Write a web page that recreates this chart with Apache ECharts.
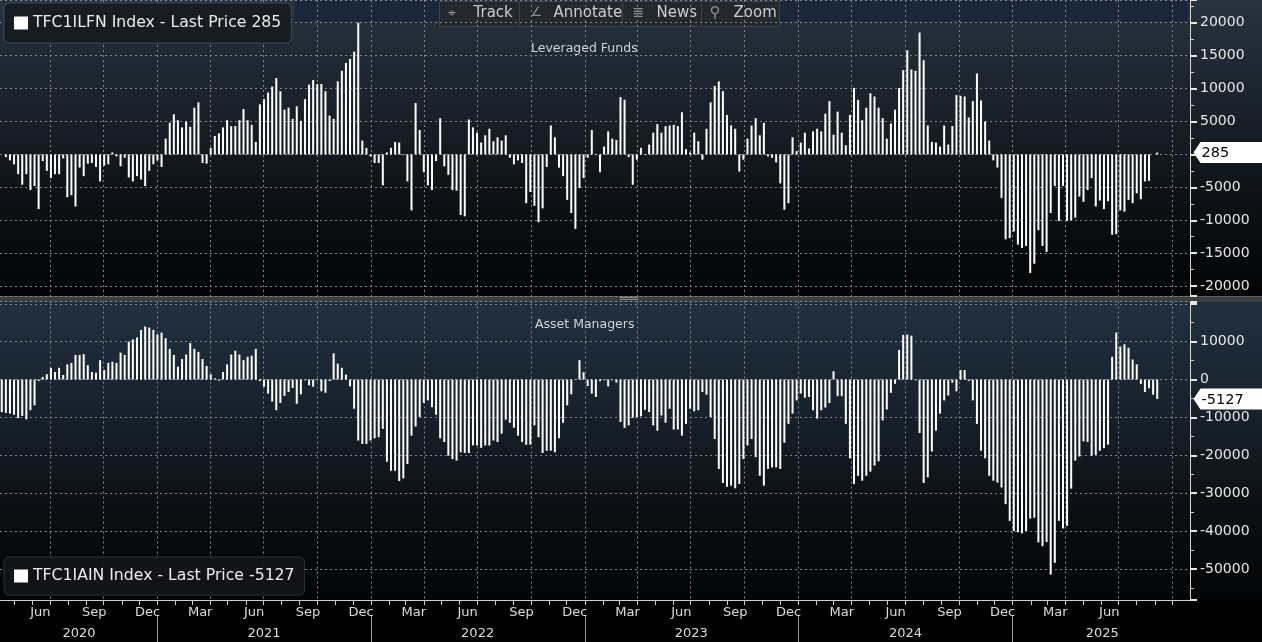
<!DOCTYPE html>
<html><head><meta charset="utf-8">
<script src="https://cdn.jsdelivr.net/npm/echarts@6/dist/echarts.min.js"></script>
<style>
html,body{margin:0;padding:0;background:#000;width:1262px;height:642px;overflow:hidden}
#bg1{position:absolute;left:0;top:0;width:1262px;height:296px;background:linear-gradient(#27333f 0%,#1a222b 35%,#0c1014 70%,#030405 100%)}
#band{position:absolute;left:295px;top:0;width:893px;height:21px;background-image:radial-gradient(circle,rgba(14,26,60,0.45) 0.8px,transparent 1px);background-size:2px 2px}
#sep{position:absolute;left:0;top:296px;width:1262px;height:6px;background:#3c3f42;border-top:1px solid #5c5f62;box-sizing:border-box}
#handle{position:absolute;left:620px;top:297px;width:18px;height:3px;border-top:1px solid #8a8d90;border-bottom:1px solid #8a8d90;box-sizing:border-box}
#bg2{position:absolute;left:0;top:302px;width:1262px;height:298px;background:linear-gradient(#213040 0%,#18222d 35%,#0b0f13 70%,#030405 100%)}
#chart{position:absolute;left:0;top:0;width:1262px;height:642px}
</style></head>
<body>
<div id="bg1"></div><div id="band"></div><div id="sep"></div><div id="handle"></div><div id="bg2"></div>
<div id="chart"></div>
<script>
// ---------------- data ----------------
const monthNames = ['Jan','Feb','Mar','Apr','May','Jun','Jul','Aug','Sep','Oct','Nov','Dec'];
const lfName = 'TFC1ILFN Index';
const amName = 'TFC1IAIN Index';
const panelTitles = ['Leveraged Funds', 'Asset Managers'];
const axisStart = '2020-04-07';
const axisEnd = '2025-10-31';
const lfStart = '2020-04-17';   // weekly bars
const amStart = '2020-04-10';   // weekly bars
const quarterLabelMonths = [2, 5, 8, 11];   // Mar, Jun, Sep, Dec
const yearLabels = ['2020','2021','2022','2023','2024','2025'];
const yearLabelDates = ['2020-08-20','2021-07-02','2022-07-02','2023-07-02','2024-07-02','2025-06-03'];

// Leveraged Funds net positions (contracts)
const lfValues = [
-400,-900,-1500,-3000,-4600,-3000,-5400,-4800,-8300,-1000,
-2500,-3600,-3000,-3000,-600,-6500,-6200,-7900,-2000,-3300,
-1400,-1300,-1900,-4100,-1700,-1500,300,-300,-1800,-500,
-3500,-4100,-3300,-3800,-4800,-2500,-1500,-900,-1900,
2400,4800,6100,5200,4100,5000,4200,7100,7900,-1300,
-1400,1000,2800,3200,4100,5200,4300,4300,5200,6900,
5200,4500,1900,7600,8400,9400,10300,11600,9600,6800,
7100,5400,7300,5100,8400,10600,11300,10700,10700,9600,
5900,5400,11100,12700,13900,14500,15600,20000,2100,1000,
-300,-1300,-1300,-4700,300,1000,1900,1800,
-100,-4100,-8500,7800,3700,-2700,-4700,-5400,-1000,5500,
-1800,-3100,-5400,-5500,-9200,-9400,5300,4100,3300,1800,
2900,3900,2000,2600,2100,2900,-500,-1500,-900,-1300,
-7400,-5700,-7800,-10300,-8200,-1900,4400,2600,-2000,-3300,
-6900,-8900,-11300,-5100,-3600,-500,3700,-100,-2700,1200,
3500,2400,2200,8700,8300,-400,-4600,-800,1000,-100,
1500,3300,4600,3300,4300,4400,4500,4300,6400,800,
300,3300,2000,-800,3900,7900,10400,11100,9600,6000,
4400,3900,-2600,-800,2400,4400,5500,2900,4800,-300,
-500,-1200,-4400,-8400,-7400,
2600,500,1800,3300,900,3500,3900,3500,6200,8100,
3000,6500,3300,1400,6000,10100,8300,5200,7100,9300,
8800,7100,5500,2400,4700,6800,10100,12800,15800,12900,
12700,18500,14300,4400,1900,1800,1200,4400,1500,4300,
9000,8900,8800,5600,8100,12300,8200,5000,2100,-900,
-2000,-6600,-12900,-12700,-11700,-13700,-14200,-13900,-18000,-16600,
-11500,-13900,-14800,-8900,-4800,-10100,-4800,-10100,-10000,-9600,
-6400,-7200,-5400,-3600,-7900,-7000,-8300,-7100,-12200,-12100,
-8500,-8700,-6900,-7400,-5900,-6800,-4100,-4000,
null,285
];

// Asset Managers net positions (contracts)
const amValues = [
-8600,-8800,-9000,-9300,-10200,-9600,-10500,-8100,-6800,-400,
700,1400,3100,2000,3100,1200,4000,4400,6500,6500,
6700,3800,2000,1800,5100,2500,4400,4700,4400,7100,
6500,10000,10600,11100,13100,14000,13700,13100,11900,12400,
10900,8100,6500,3400,5400,6600,9600,8100,7300,5400,
3600,1400,300,-300,2000,4000,6600,7600,6600,5100,
6000,6300,8100,-400,-1900,-3700,-5800,-8100,-6200,-4300,
-3300,-2200,-6400,-3900,-200,-1500,-1900,-200,-3100,-3500,
-400,6900,4200,3100,1300,-1800,-7700,-16100,-17000,-17000,
-16100,-15500,-15200,-13000,-21700,-24100,-24100,-26800,
-26100,-22300,-14800,-12400,-9900,-6200,-5500,-7300,-9300,-15500,
-16500,-20100,-21000,-21400,-19200,-19400,-19400,-17400,-17400,-18000,
-17400,-17400,-16100,-16500,-14300,-10600,-11400,-12700,-14800,-16500,
-17200,-17200,-12100,-15200,-19400,-18800,-18800,-19200,-15500,-11400,
-6800,-3900,100,5100,1900,-1700,-3700,-4600,-400,-200,
-1800,-200,-800,-11200,-12800,-12100,-10100,-9900,-9700,-8000,
-8600,-12100,-13500,-9500,-11400,-7700,-13200,-13200,-14800,-11700,
-7700,-8400,-8100,-3300,-4000,-9900,-15700,-23600,-27300,-28300,
-28000,-28700,-27600,-21000,-17400,-15700,-20500,-25400,-28000,-23600,
-23200,-23200,-23600,-16700,-11700,-9000,-5500,
-3700,-4800,-4600,-8100,-10300,-8100,-7400,-6200,2200,-4400,
-4400,-11700,-20800,-27600,-25400,-26700,-25400,-24300,-22700,-21600,
-10800,-7900,-3500,-1100,7800,11800,11900,11600,-200,-14100,
-27300,-25800,-19000,-13500,-9000,-5500,-4200,-800,-3100,2500,
2500,-400,-5500,-11700,-18800,-20800,-25400,-26700,-27200,-28500,
-32900,-37300,-40000,-40300,-40600,-40000,-36700,-36500,-43000,-44000,
-42900,-51500,-48400,-37300,-39300,-38600,-28800,-21400,-20300,-16300,
-16500,-20100,-19900,-18800,-18100,-17200,6000,12400,8700,9300,
8400,5300,4000,-1200,-3300,-2300,-4000,-5127
];

// ---------------- helpers ----------------
function ts(s){ const p = s.split('-').map(Number); return new Date(p[0], p[1]-1, p[2]).getTime(); }
function weekly(start, values){
  const t0 = ts(start);
  return values.map((v,i)=>[t0 + i*7*86400000, v]);
}
function lastVal(arr){ for(let i=arr.length-1;i>=0;i--) if(arr[i]!==null) return arr[i]; }
const xMin = ts(axisStart), xMax = ts(axisEnd);
const monthStarts = [], quarterStarts = [], quarterMids = [], yearStarts = [];
for (let y = 2020; y <= 2025; y++) {
  for (let m = 0; m < 12; m++) {
    const t = new Date(y, m, 1).getTime();
    if (t >= xMin && t <= xMax) {
      monthStarts.push(t);
      if (m % 3 === 0) quarterStarts.push(t);
      if (m === 0) yearStarts.push(t);
    }
    const mid = new Date(y, m, 15).getTime();
    if (quarterLabelMonths.indexOf(m) >= 0 && mid >= xMin && mid <= xMax - 60*86400000) quarterMids.push(mid);
  }
}
const yearMids = yearLabelDates.map(ts);
const lfLast = lastVal(lfValues), amLast = lastVal(amValues);

const FONT = 'DejaVu Sans';
const gridLine = { show: true, lineStyle: { color: '#80858b', width: 1, type: [2, 3] } };

// "last price" tag drawn on the right axis at the latest value
function lastTag(v){
  return {
    silent: true, animation: false,
    symbol: 'path://M0,10 L7,0 L69,0 L69,20 L7,20 Z', symbolSize: [69, 21], symbolOffset: [38, 0],
    symbolKeepAspect: false,
    itemStyle: { color: '#ffffff' },
    label: { show: true, position: 'insideLeft', distance: 8, formatter: String(v), color: '#000',
      fontFamily: FONT, fontSize: 14.5, offset: [0, 1] },
    data: [{ coord: [xMax, v], value: v }]
  };
}
function yAxisCfg(grid, min, max, step, split, hideAbove){
  return {
    gridIndex: grid, type: 'value', position: 'right', min: min, max: max,
    splitNumber: split, minInterval: step, maxInterval: step,
    axisLine: { show: true, lineStyle: { color: '#d6d6d6', width: 1 } },
    axisTick: { show: true, length: 7, lineStyle: { color: '#e6e6e6', width: 2 } },
    minorTick: { show: true, splitNumber: 2, length: 4, lineStyle: { color: '#cfcfcf', width: 1 } },
    axisLabel: { color: '#e6e6e6', fontFamily: FONT, fontSize: 14, margin: 10,
      showMinLabel: false, showMaxLabel: false,
      formatter: v => (Math.abs(v % step) < 1e-6 && v < hideAbove) ? String(v) : '' },
    splitLine: gridLine
  };
}
function xAxisBase(grid){
  return { gridIndex: grid, type: 'value', min: xMin, max: xMax, scale: true, position: 'bottom' };
}

const option = {
  animation: false,
  backgroundColor: 'transparent',
  title: [
    { text: panelTitles[0], left: 531, top: 42, padding: 0,
      textStyle: { color: '#d0d4d8', fontFamily: FONT, fontSize: 12.5, fontWeight: 'normal' } },
    { text: panelTitles[1], left: 535, top: 318, padding: 0,
      textStyle: { color: '#d0d4d8', fontFamily: FONT, fontSize: 12.5, fontWeight: 'normal' } }
  ],
  legend: [
    { data: [lfName], left: 4, top: 3, selectedMode: false, icon: 'rect', itemWidth: 14, itemHeight: 13, itemGap: 5,
      formatter: n => n + ' - Last Price ' + lfLast,
      textStyle: { color: '#ececec', fontFamily: FONT, fontSize: 15.7 },
      backgroundColor: 'rgba(22,27,33,0.92)', borderColor: '#454b53', borderWidth: 1, borderRadius: 5,
      padding: [12, 10, 12, 10] },
    { data: [amName], left: 4, top: 557, selectedMode: false, icon: 'rect', itemWidth: 14, itemHeight: 13, itemGap: 5,
      formatter: n => n + ' - Last Price ' + amLast,
      textStyle: { color: '#ececec', fontFamily: FONT, fontSize: 15.7 },
      backgroundColor: 'rgba(18,21,25,0.92)', borderColor: '#2c3036', borderWidth: 1, borderRadius: 5,
      padding: [11, 10, 11, 10] }
  ],
  grid: [
    { left: 0, right: 72, top: 0, height: 296, outerBoundsMode: 'none' },
    { left: 0, right: 72, top: 301.5, height: 298.5, outerBoundsMode: 'none' }
  ],
  xAxis: [
    Object.assign(xAxisBase(0), {
      axisLine: { show: false }, axisTick: { show: false, customValues: quarterStarts },
      axisLabel: { show: false }, splitLine: gridLine }),
    Object.assign(xAxisBase(1), {
      axisLine: { show: true, onZero: false, lineStyle: { color: '#cfcfcf', width: 1 } },
      axisTick: { show: false, customValues: quarterStarts },
      axisLabel: { show: false }, splitLine: gridLine }),
    Object.assign(xAxisBase(1), {
      axisLine: { show: false, onZero: false },
      axisTick: { show: true, customValues: monthStarts, length: 5, lineStyle: { color: '#cfcfcf' } },
      axisLabel: { show: true, customValues: quarterMids, margin: 6, color: '#dcdcdc', fontFamily: FONT, fontSize: 13,
        formatter: v => monthNames[new Date(v).getMonth()] },
      splitLine: { show: false } }),
    Object.assign(xAxisBase(1), { offset: 16,
      axisLine: { show: false, onZero: false },
      axisTick: { show: true, customValues: yearStarts, length: 26, lineStyle: { color: '#9a9a9a' } },
      axisLabel: { show: true, customValues: yearMids, margin: 11, color: '#dcdcdc', fontFamily: FONT, fontSize: 13,
        formatter: v => yearLabels[yearMids.indexOf(v)] },
      splitLine: { show: false } })
  ],
  yAxis: [
    yAxisCfg(0, -21500, 23450, 5000, 9, 1e9),
    yAxisCfg(1, -58200, 20600, 10000, 8, 20000)
  ],
  series: [
    { name: lfName, type: 'bar', xAxisIndex: 0, yAxisIndex: 0, barWidth: 2, clip: false, z: 3,
      itemStyle: { color: '#ffffff' }, data: weekly(lfStart, lfValues), markPoint: lastTag(lfLast) },
    { name: amName, type: 'bar', xAxisIndex: 1, yAxisIndex: 1, barWidth: 2, clip: false, z: 3,
      itemStyle: { color: '#ffffff' }, data: weekly(amStart, amValues), markPoint: lastTag(amLast) }
  ],
  graphic: [
    { type: 'group', left: 439, top: 0, children: [
      { type: 'rect', shape: { x: 0, y: 0, width: 340, height: 25 }, style: { fill: '#23282e', stroke: '#3d434a', lineWidth: 1 } },
      { type: 'line', shape: { x1: 80, y1: 1, x2: 80, y2: 24 }, style: { stroke: '#3d434a' } },
      { type: 'line', shape: { x1: 183, y1: 1, x2: 183, y2: 24 }, style: { stroke: '#3d434a' } },
      { type: 'line', shape: { x1: 262, y1: 1, x2: 262, y2: 24 }, style: { stroke: '#3d434a' } },
      { type: 'text', x: 8, y: 5, style: { text: '⌖', fill: '#8b9096', font: '14px "DejaVu Sans"' } },
      { type: 'text', x: 34, y: 4, style: { text: 'Track', fill: '#c9ccd0', font: '15px "DejaVu Sans"' } },
      { type: 'text', x: 91, y: 5, style: { text: '∠', fill: '#8b9096', font: '13px "DejaVu Sans"' } },
      { type: 'text', x: 114, y: 4, style: { text: 'Annotate', fill: '#c9ccd0', font: '15px "DejaVu Sans"' } },
      { type: 'text', x: 193, y: 5, style: { text: '≣', fill: '#8b9096', font: '14px "DejaVu Sans"' } },
      { type: 'text', x: 217, y: 4, style: { text: 'News', fill: '#c9ccd0', font: '15px "DejaVu Sans"' } },
      { type: 'text', x: 270, y: 4, style: { text: '⚲', fill: '#8b9096', font: '15px "DejaVu Sans"' } },
      { type: 'text', x: 294, y: 4, style: { text: 'Zoom', fill: '#c9ccd0', font: '15px "DejaVu Sans"' } }
    ] }
  ]
};

const chart = echarts.init(document.getElementById('chart'), null, { renderer: 'canvas' });
chart.setOption(option);
</script>
</body></html>
